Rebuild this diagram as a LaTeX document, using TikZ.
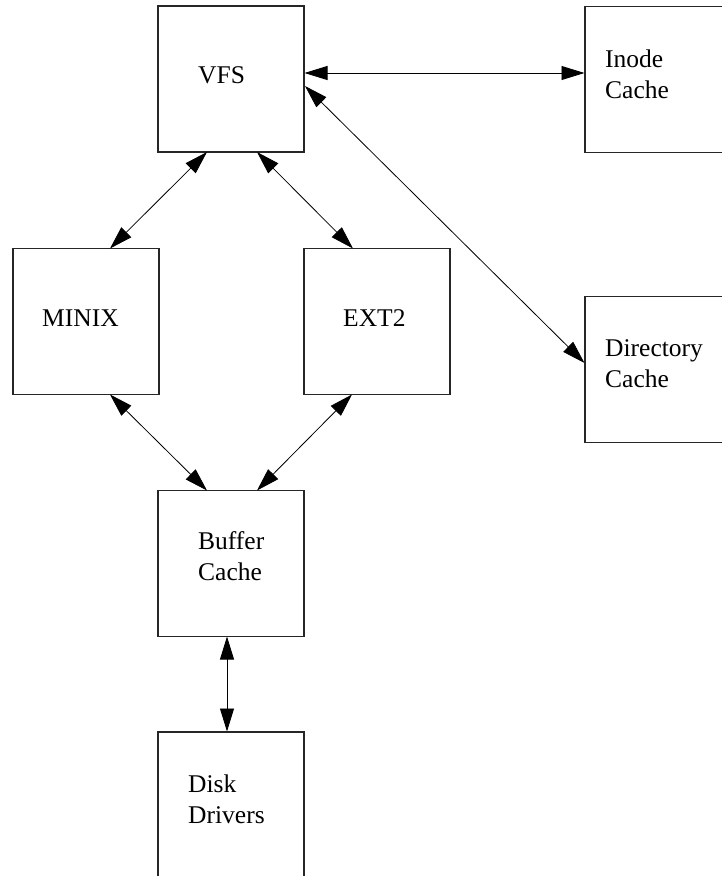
\documentclass[tikz,border=0pt]{standalone}
\usepackage{fontspec}
\setmainfont{Liberation Serif}
\usetikzlibrary{arrows.meta}
\begin{document}
\begin{tikzpicture}[x=1pt,y=-1pt,
  box/.style={draw=black!85,line width=1.3pt,minimum width=146pt,minimum height=146pt,inner sep=0pt},
  lbl/.style={anchor=base west,inner sep=0pt,align=left,font=\fontsize{25.5}{31}\selectfont},
  link/.style={line width=0.8pt,{Triangle[length=23pt,width=14pt]}-{Triangle[length=23pt,width=14pt]}}]
\useasboundingbox (0,0) rectangle (722,876);
\fill[white] (0,0) rectangle (722,876);
% boxes (centres)
\node[box] (vfs) at (231,79) {};
\node[box] (inode) at (658,79.5) {};
\node[box] (dir) at (658,369.5) {};
\node[box] (minix) at (86,321.5) {};
\node[box] (ext2) at (377,321.5) {};
\node[box] (buf) at (231,563.5) {};
\node[box] (disk) at (231,805) {};
% labels (base = last line baseline)
\node[lbl] (tvfs) at (198,83) {VFS};
\node[lbl] (tinode) at (605,98) {Inode\\Cache};
\node[lbl] (tdir) at (605,387) {Directory\\Cache};
\node[lbl] (tminix) at (42,326) {MINIX};
\node[lbl] (text2) at (343,326) {EXT2};
\node[lbl] (tbuf) at (198,580) {Buffer\\Cache};
\node[lbl] (tdisk) at (188,823) {Disk\\Drivers};
% connection points
\coordinate (a1) at (304.5,73);
\coordinate (a2) at (584.5,73);
\coordinate (b1) at (305,86);
\coordinate (b2) at (584.5,363);
\coordinate (c1) at (207,152);
\coordinate (c2) at (110,248.5);
\coordinate (d1) at (257,152);
\coordinate (d2) at (353,248.5);
\coordinate (e1) at (110,394.5);
\coordinate (e2) at (207,490.5);
\coordinate (f1) at (352,394.5);
\coordinate (f2) at (257,490.5);
\coordinate (g1) at (227,636.5);
\coordinate (g2) at (227,731.5);
\draw[link] (a1) -- (a2);
\draw[link] (b1) -- (b2);
\draw[link] (c1) -- (c2);
\draw[link] (d1) -- (d2);
\draw[link] (e1) -- (e2);
\draw[link] (f1) -- (f2);
\draw[link] (g1) -- (g2);
\end{tikzpicture}
\end{document}
